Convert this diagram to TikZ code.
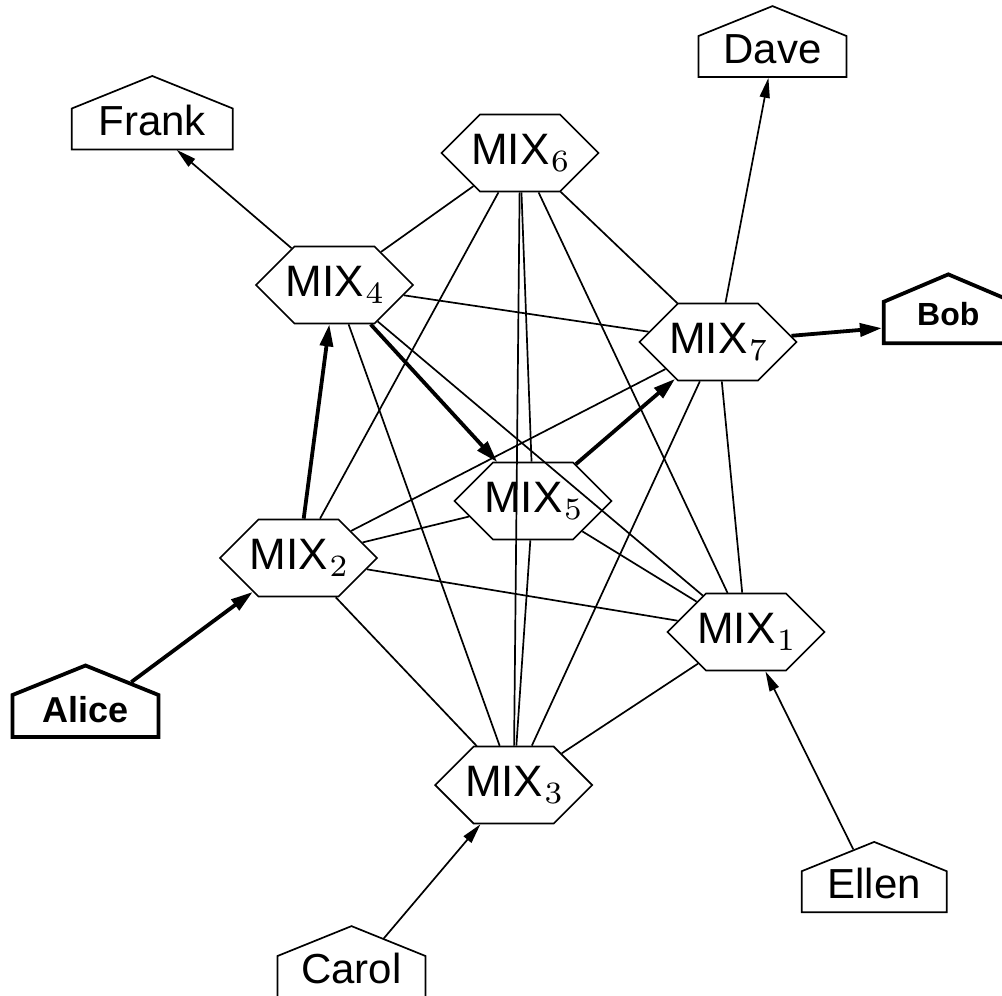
\documentclass[tikz,border=0pt]{standalone}
\usepackage[no-math]{fontspec}
\setmainfont{Liberation Sans}
\newfontfamily\lmfont{lmroman7-regular.otf}
\newcommand\mixname[1]{\makebox[0pt][c]{MIX\kern1.5pt\raisebox{-7pt}{\fontsize{31}{31}\selectfont\lmfont #1}}}
\usetikzlibrary{shapes.symbols,arrows.meta}
\begin{document}
\begin{tikzpicture}[x=1pt,y=-1pt,
  mix/.style={draw, line width=1.7pt, signal, signal to=east and west, signal from=nowhere,
     signal pointer angle=90, minimum width=157pt, minimum height=77pt, inner sep=0pt,
     font=\fontsize{44}{50}\selectfont},
  user/.style={draw, line width=1.7pt, signal, signal to=north, signal from=nowhere,
     signal pointer angle=136, inner sep=0pt, minimum height=0pt, text height=27pt, text depth=14pt,
     font=\fontsize{42}{48}\selectfont},
  keyuser/.style={user, line width=3.8pt, text depth=15pt, font=\fontsize{36}{42}\selectfont\bfseries},
  link/.style={line width=1.7pt},
  flow/.style={line width=1.7pt, -{Triangle[length=20pt,width=10pt]}},
  route/.style={line width=3.8pt, -{Triangle[length=22pt,width=13pt]}},
]
\useasboundingbox (0,0) rectangle (1002,996);
\clip (0,0) rectangle (1002,996);

% mixes
\node[mix] (m1) at (746,632) {\mixname{1}};
\node[mix] (m2) at (298.5,558) {\mixname{2}};
\node[mix] (m3) at (513.7,785) {\mixname{3}};
\node[mix] (m4) at (334.5,285) {\mixname{4}};
\node[mix] (m5) at (533,501) {\mixname{5}};
\node[mix] (m6) at (520,153) {\mixname{6}};
\node[mix] (m7) at (718,342) {\mixname{7}};

% users
\node[user, minimum width=161pt] (frank) at (152.3,129) {Frank};
\node[user, minimum width=148pt] (dave) at (772.5,56.5) {Dave};
\node[user, minimum width=145pt] (ellen) at (874.2,891.7) {Ellen};
\node[user, minimum width=148pt] (carol) at (351.5,976.5) {Carol};
\node[keyuser, minimum width=146pt] (alice) at (85.5,716) {Alice};
\node[keyuser, minimum width=129pt, signal pointer angle=134, text height=23.5pt, text depth=18pt,
      font=\fontsize{32}{38}\selectfont\bfseries] (bob) at (948.3,322.5) {Bob};

% links between mixes
\foreach \a/\b in {m1/m2,m1/m3,m1/m4,m1/m5,m1/m6,m1/m7,m2/m3,m2/m5,m2/m6,m2/m7,
                   m3/m4,m3/m5,m3/m6,m3/m7,m4/m6,m4/m7,m5/m6,m6/m7}
  \draw[link] (\a) -- (\b);

% route
\draw[route] (alice) -- (m2);
\draw[route] (m2) -- (m4);
\draw[route] (m4) -- (m5);
\draw[route] (m5) -- (m7);
\draw[route] (m7) -- (bob);

% other flows
\draw[flow] (m4) -- (frank);
\draw[flow] (m7) -- (dave);
\draw[flow] (ellen) -- (m1);
\draw[flow] (carol) -- (m3);
\end{tikzpicture}
\end{document}
